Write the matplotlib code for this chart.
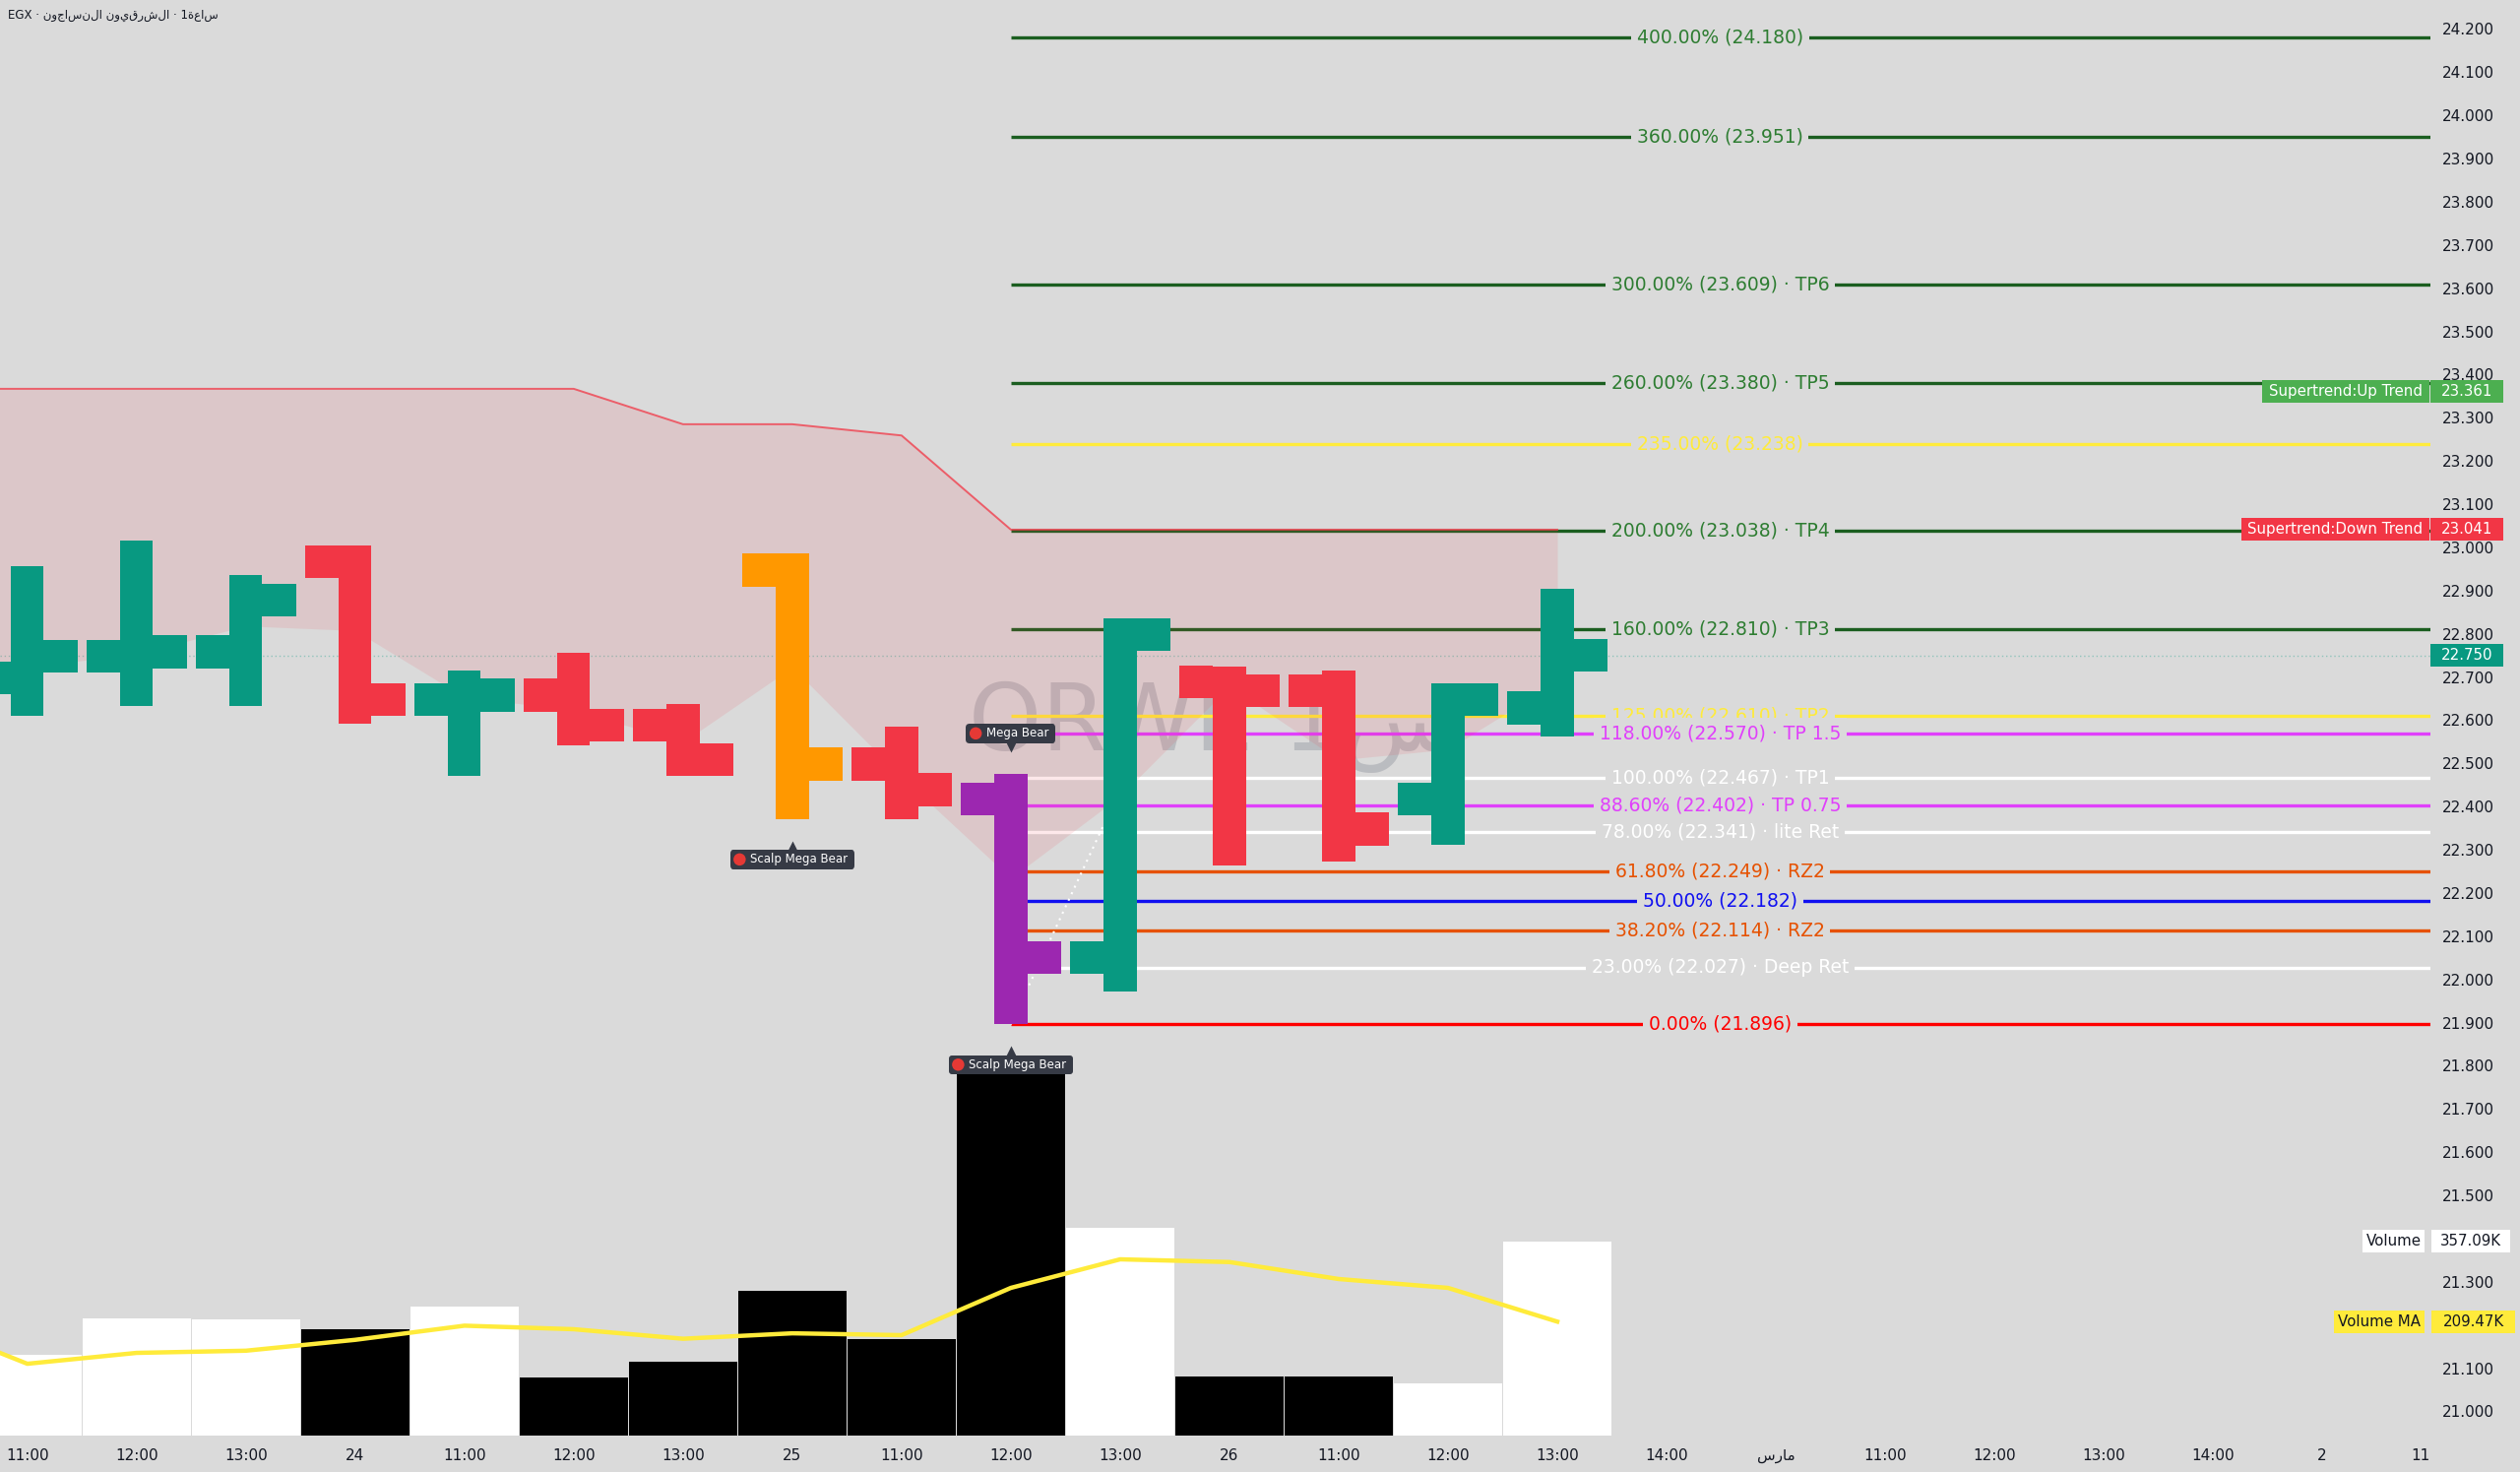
import matplotlib
matplotlib.use('Agg')
import matplotlib.pyplot as plt
import matplotlib.transforms as mtransforms
from matplotlib.patches import Rectangle, Circle
from matplotlib.ticker import FormatStrFormatter
from matplotlib.offsetbox import TextArea, HPacker, AnnotationBbox, DrawingArea
import numpy as np

# ---------------- data ----------------
title = 'EGX · نوجاسنلا نويقرشلا · 1ةعاس'

x_labels = ['11:00', '12:00', '13:00', '24', '11:00', '12:00', '13:00', '25', '11:00', '12:00',
            '13:00', '26', '11:00', '12:00', '13:00', '14:00', '\uFEB1\uFEAD\uFE8E\uFEE3',
            '11:00', '12:00', '13:00', '14:00', '2', '11']
x_label_pos = list(range(22)) + [21.9]

opens = [22.698, 22.748, 22.758, 22.967, 22.648, 22.658, 22.589, 22.947, 22.498, 22.418,
         22.050, 22.688, 22.668, 22.418, 22.628]
highs = [22.956, 23.015, 22.935, 23.004, 22.715, 22.755, 22.637, 22.985, 22.586, 22.476,
         22.835, 22.725, 22.715, 22.685, 22.905]
lows = [22.611, 22.632, 22.632, 22.592, 22.472, 22.542, 22.472, 22.371, 22.371, 21.896,
        21.973, 22.263, 22.272, 22.312, 22.562]
closes = [22.748, 22.758, 22.878, 22.648, 22.658, 22.589, 22.509, 22.498, 22.439, 22.050,
          22.798, 22.668, 22.348, 22.647, 22.750]
last_price = 22.750

volumes_k = [147.7, 215.4, 214.1, 195.5, 236.4, 106.8, 136.3, 266.6, 177.9, 664.0,
             381.2, 108.6, 107.9, 96.5, 357.09]
# bar -1 (off screen) .. bar 14
vol_ma_k = [212.0, 132.0, 152.0, 156.0, 176.0, 202.0, 195.5, 178.0, 188.0, 184.6,
            271.5, 324.0, 319.0, 287.8, 271.5, 209.47]
supertrend = [23.367, 23.367, 23.367, 23.367, 23.367, 23.367, 23.367, 23.285, 23.285, 23.259,
              23.041, 23.041, 23.041, 23.041, 23.041, 23.041]
mid_before = 22.776          # body middle of the bar left of the view
st_up_value = 23.361

# price scale labels (21.200 and 21.400 sit under the volume tags)
price_ticks = [21.0, 21.1, 21.3, 21.5, 21.6, 21.7, 21.8, 21.9, 22.0, 22.1, 22.2, 22.3, 22.4,
               22.5, 22.6, 22.7, 22.8, 22.9, 23.0, 23.1, 23.2, 23.3, 23.4, 23.5, 23.6, 23.7,
               23.8, 23.9, 24.0, 24.1, 24.2]

fib_prices = [24.180, 23.951, 23.609, 23.380, 23.238, 23.038, 22.810, 22.610, 22.570,
              22.467, 22.402, 22.341, 22.249, 22.182, 22.114, 22.027, 21.896]
fib_labels = ['400.00% (24.180)', '360.00% (23.951)', '300.00% (23.609) · TP6',
              '260.00% (23.380) · TP5', '235.00% (23.238)', '200.00% (23.038) · TP4',
              '160.00% (22.810) · TP3', '125.00% (22.610) · TP2', '118.00% (22.570) · TP 1.5',
              '100.00% (22.467) · TP1', '88.60% (22.402) · TP 0.75', '78.00% (22.341) · lite Ret',
              '61.80% (22.249) · RZ2', '50.00% (22.182)', '38.20% (22.114) · RZ2',
              '23.00% (22.027) · Deep Ret', '0.00% (21.896)']
fib_start = 9

signals = [(7, 'Scalp Mega Bear', 'below'), (9, 'Mega Bear', 'above'), (9, 'Scalp Mega Bear', 'below')]
zigzag_x = [9.0, 9.9]
zigzag_y = [21.896, 22.385]

# ---------------- styles ----------------
BG = '#dadada'
TXT = '#131722'
GREEN = '#089981'
RED = '#f23645'
candle_colors = [GREEN, GREEN, GREEN, RED, GREEN, RED, RED, '#ff9800', RED, '#9c27b0',
                 GREEN, RED, RED, GREEN, GREEN]
DG_LINE, DG_TEXT = '#1b5e20', '#2e7d32'
YEL, MAG, WHT, ORA, BLU = '#ffeb3b', '#e040fb', '#ffffff', '#e65100', '#1010f0'
fib_line_colors = [DG_LINE, DG_LINE, DG_LINE, DG_LINE, YEL, DG_LINE, DG_LINE, YEL, MAG,
                   WHT, MAG, WHT, ORA, BLU, ORA, WHT, '#ff0000']
fib_text_colors = [DG_TEXT, DG_TEXT, DG_TEXT, DG_TEXT, YEL, DG_TEXT, DG_TEXT, YEL, MAG,
                   WHT, MAG, WHT, ORA, BLU, ORA, WHT, '#ff0000']

W, H = 2560, 1495
AX_W = 2469
fig = plt.figure(figsize=(W / 100, H / 100), dpi=100, facecolor=BG)
rect = [0, 37 / H, AX_W / W, 1 - 37 / H]
axv = fig.add_axes(rect)
ax = fig.add_axes(rect, sharex=axv)
ax.patch.set_visible(False)
axv.set_facecolor(BG)

XMIN, XMAX = -0.25, 21.99
ax.set_xlim(XMIN, XMAX)
ax.set_ylim(20.944, 24.267)
axv.set_ylim(0, 2639)

n = len(opens)
xs = np.arange(n)

# ---------------- volume ----------------
vol_cols = ['white' if c >= o else 'black' for o, c in zip(opens, closes)]
axv.bar(xs, volumes_k, width=0.99, color=vol_cols, linewidth=0, zorder=2)
axv.plot(np.arange(-1, n), vol_ma_k, color=YEL, lw=3.2, zorder=3)
axv.set_yticks([])
axv.tick_params(axis='x', bottom=False, labelbottom=False)

# ---------------- supertrend band ----------------
mids = [mid_before] + [(o + c) / 2 for o, c in zip(opens, closes)]
xst = np.arange(-1, n)
ax.fill_between(xst, supertrend, mids, color=RED, alpha=0.11, lw=0, zorder=3.5)
ax.plot(xst, supertrend, color=RED, lw=1.4, alpha=0.75, zorder=3.6)

# watermark
ax.text(8.61, 22.53, 'ORWE 1س', fontsize=68, color='#9598a1', alpha=0.45, ha='left',
        va='baseline', zorder=1.5)

ax.axhline(last_price, color=GREEN, lw=1, ls=(0, (1, 2)), alpha=0.35, zorder=2)

# ---------------- fibonacci levels ----------------
for p, lab, lc, tc in zip(fib_prices, fib_labels, fib_line_colors, fib_text_colors):
    ax.plot([fib_start, XMAX + 0.5], [p, p], color=lc, lw=2.4, zorder=3, solid_capstyle='butt')
    ax.text(15.49, p, lab, ha='center', va='center', fontsize=13.5, color=tc, zorder=4,
            bbox=dict(boxstyle='square,pad=0.3', fc=BG, ec='none'))

ax.plot(zigzag_x, zigzag_y, color='white', lw=1.5, ls=(0, (1, 2.5)), zorder=3.7)

# ---------------- OHLC bars ----------------
wb, wt, th = 0.30, 0.31, 0.076
for i in range(n):
    c = candle_colors[i]
    ax.bar(i, highs[i] - lows[i], bottom=lows[i], width=wb, color=c, lw=0, zorder=5)
    ax.bar(i - wb / 2 - wt / 2, th, bottom=opens[i] - th / 2, width=wt, color=c, lw=0, zorder=5)
    ax.bar(i + wb / 2 + wt / 2, th, bottom=closes[i] - th / 2, width=wt, color=c, lw=0, zorder=5)

# ---------------- signal labels ----------------
for i, txt, where in signals:
    if where == 'above':
        y, dy, dtri, mk = highs[i], 29.5, 19.5, 'v'
    else:
        y, dy, dtri, mk = lows[i], -29.5, -19.5, '^'
    dot = DrawingArea(10, 10, 0, 0)
    dot.add_artist(Circle((5, 5), 4.5, fc='#e53935', ec='none'))
    box = HPacker(children=[dot, TextArea(txt + ' ', textprops=dict(color='white', size=8.5))],
                  sep=3, align='center')
    ab = AnnotationBbox(box, (i, y), xybox=(0, dy), boxcoords='offset points', frameon=True,
                        pad=0.45, bboxprops=dict(boxstyle='round,pad=0.2,rounding_size=0.25',
                                                 fc='#363a45', ec='none'), zorder=8)
    ax.add_artist(ab)
    tri_tr = mtransforms.offset_copy(ax.transData, fig=fig, x=0, y=dtri, units='points')
    ax.plot([i], [y], marker=mk, ms=7, color='#363a45', mec='none', transform=tri_tr, zorder=7.9)

# ---------------- axes / ticks ----------------
for a in (ax, axv):
    for s in a.spines.values():
        s.set_visible(False)
ax.yaxis.tick_right()
ax.set_yticks(price_ticks)
ax.yaxis.set_major_formatter(FormatStrFormatter('%.3f'))
ax.tick_params(axis='y', length=0, pad=8.6, labelsize=11, labelcolor=TXT)
ax.set_xticks(x_label_pos)
ax.set_xticklabels(x_labels)
ax.tick_params(axis='x', length=0, pad=9.5, labelsize=11, labelcolor=TXT)


# ---------------- right-side tags ----------------
def tag(ydata_ax, y, txt, fc, tc, x0, x1, halfh):
    # drawn on the top axes so the boxes sit above the price tick labels
    tr = mtransforms.blended_transform_factory(ax.transAxes, ydata_ax.transData)
    ax.add_patch(Rectangle((x0 / AX_W, y - halfh), (x1 - x0) / AX_W, 2 * halfh, transform=tr,
                           fc=fc, ec='none', clip_on=False, zorder=10))
    ax.text((x0 + x1) / 2 / AX_W, y, txt, transform=tr, ha='center', va='center', fontsize=10.8,
            color=tc, clip_on=False, zorder=11)


hp = 11.5 / 438.8
hv = 11.5 * 2639 / 1458
tag(ax, st_up_value, 'Supertrend:Up Trend', '#4caf50', 'white', 2298, 2468, hp)
tag(ax, st_up_value, '%.3f' % st_up_value, '#4caf50', 'white', 2469, 2543, hp)
tag(ax, supertrend[-1], 'Supertrend:Down Trend', RED, 'white', 2277, 2468, hp)
tag(ax, supertrend[-1], '%.3f' % supertrend[-1], RED, 'white', 2469, 2543, hp)
tag(ax, last_price, '%.3f' % last_price, GREEN, 'white', 2469, 2543, hp)
tag(axv, volumes_k[-1], 'Volume', 'white', TXT, 2400, 2463, hv)
tag(axv, volumes_k[-1], '%.2fK' % volumes_k[-1], 'white', TXT, 2470, 2550, hv)
tag(axv, vol_ma_k[-1], 'Volume MA', YEL, TXT, 2371, 2463, hv)
tag(axv, vol_ma_k[-1], '%.2fK' % vol_ma_k[-1], YEL, TXT, 2470, 2555, hv)

fig.text(8 / W, 1 - 16 / H, title, fontsize=8.5, color=TXT, ha='left', va='center')

fig.savefig('out.png', dpi=100, facecolor=BG)
